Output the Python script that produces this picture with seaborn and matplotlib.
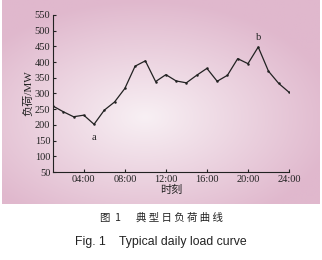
import numpy as np
import pandas as pd
import matplotlib
matplotlib.use("Agg")
import matplotlib.pyplot as plt
import seaborn as sns

hours = list(range(1, 25))
load = [260, 242, 226, 231, 202, 247, 273, 316, 387, 404, 338, 360,
        340, 334, 358, 380, 339, 358, 411, 395, 448, 371, 332, 304]
xticks = [4, 8, 12, 16, 20, 24]
xticklabels = ["04:00", "08:00", "12:00", "16:00", "20:00", "24:00"]
yticks = [50, 100, 150, 200, 250, 300, 350, 400, 450, 500, 550]
annots = [("a", 5, 160), ("b", 21, 478)]

df = pd.DataFrame({"hour": hours, "load": load})

sns.set_theme(style="ticks")
plt.rcParams["font.family"] = ["Liberation Serif", "Noto Sans CJK SC"]

W, H = 322, 260
fig = plt.figure(figsize=(W / 100, H / 100), dpi=100)
fig.patch.set_facecolor("white")

# gradient background panel
bg = fig.add_axes([2 / W, 1 - 204 / H, 318 / W, 204 / H])
bg.set_axis_off()
yy, xx = np.mgrid[-1:1:200j, -1:1:300j]
r = np.clip(np.sqrt((xx + 0.1) ** 2 * 0.9 + (yy - 0.15) ** 2), 0, 1.15) / 1.15
c0 = np.array([248, 240, 244]) / 255
c1 = np.array([224, 184, 205]) / 255
img = c0[None, None, :] * (1 - r[..., None]) + c1[None, None, :] * r[..., None]
bg.imshow(img, aspect="auto", extent=[0, 1, 0, 1])
bg.set_xlim(0, 1)
bg.set_ylim(0, 1)

ax = fig.add_axes([53 / W, 1 - 172 / H, 236 / W, 157 / H])
ax.patch.set_alpha(0)
sns.lineplot(data=df, x="hour", y="load", ax=ax, color="#222222", lw=0.9,
             marker="o", markersize=1.8, markeredgewidth=0)
ax.set_xlim(1, 24)
ax.set_ylim(50, 550)
ax.set_xticks(xticks)
ax.set_xticklabels(xticklabels)
ax.set_yticks(yticks)
ax.tick_params(direction="in", length=2.5, width=0.8, labelsize=7.5, pad=2,
               colors="#222222")
for s in ["top", "right"]:
    ax.spines[s].set_visible(False)
for s in ["left", "bottom"]:
    ax.spines[s].set_linewidth(0.8)
    ax.spines[s].set_color("#222222")
ax.set_xlabel("时刻", fontsize=8, labelpad=1, color="#222222")
ax.set_ylabel("负荷/MW", fontsize=8, labelpad=1, color="#222222")
for t, x, y in annots:
    ax.text(x, y, t, ha="center", va="center", fontsize=7.5, color="#222222")

fig.text(0.5, 1 - 218 / H, "图  1 　 典 型 日 负 荷 曲 线", ha="center", va="center",
         fontsize=7.5, family=["Noto Sans CJK SC", "DejaVu Sans"], color="#222222")
fig.text(0.5, 1 - 242 / H, "Fig. 1    Typical daily load curve", ha="center",
         va="center", fontsize=8.8, family=["Liberation Sans", "Noto Sans CJK SC"],
         color="#222222")

fig.savefig("out.png", dpi=100)
